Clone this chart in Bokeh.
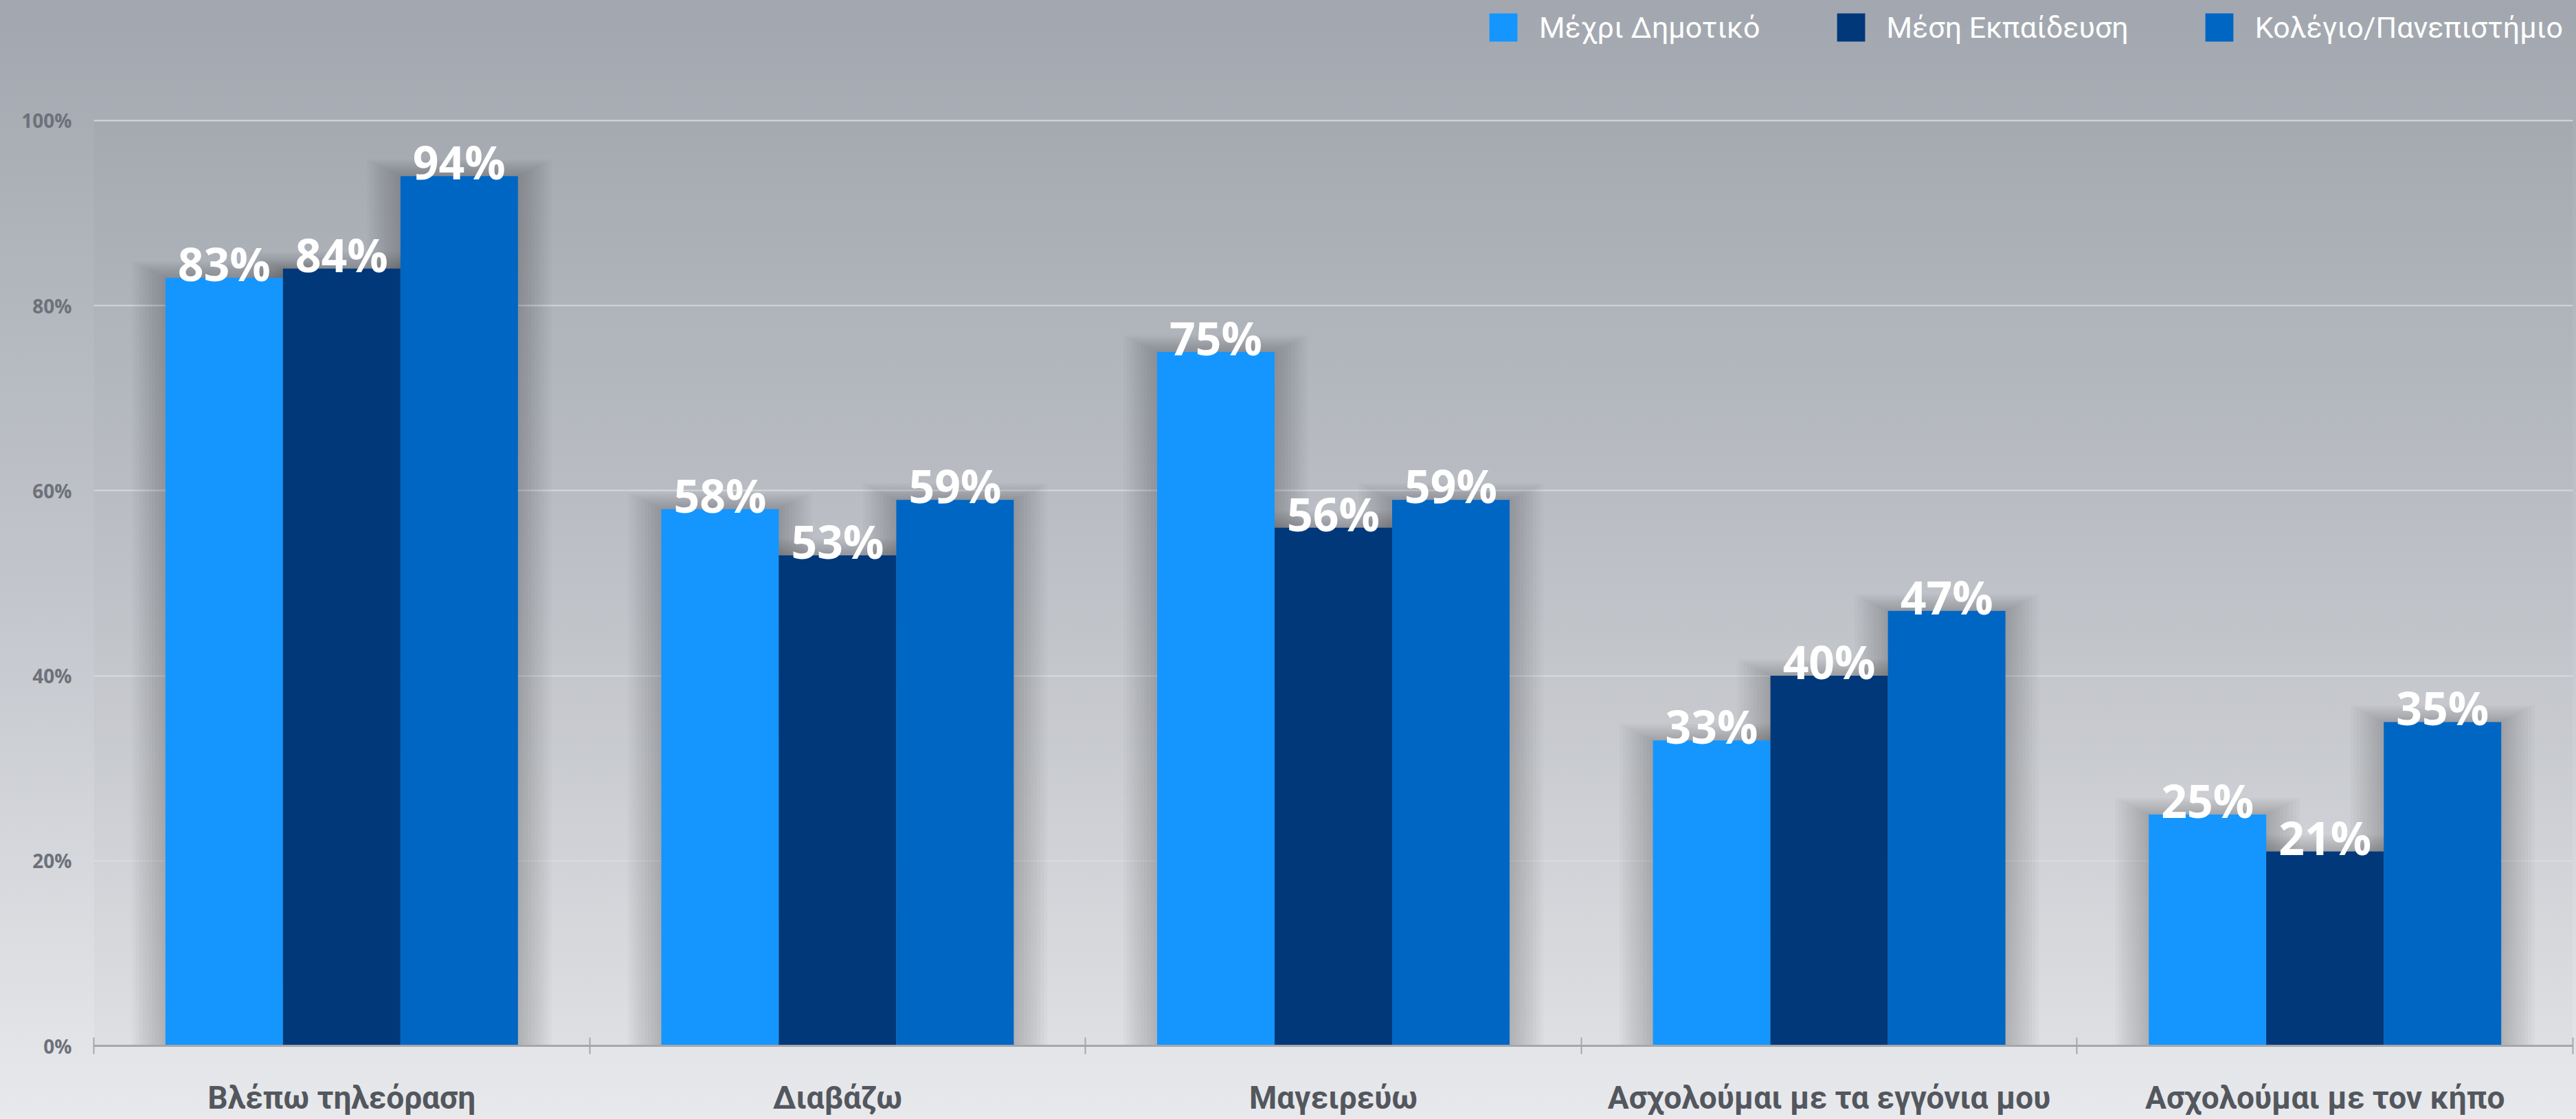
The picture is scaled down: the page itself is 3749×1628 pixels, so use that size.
from bokeh.plotting import figure
from bokeh.models import (ColumnDataSource, FixedTicker, Legend, LegendItem, Range1d,
                          PrintfTickFormatter, GlobalInlineStyleSheet)
from bokeh.core.properties import value
from bokeh.embed import file_html
from bokeh.resources import INLINE

# ---------------- data ----------------
categories = ["Βλέπω τηλεόραση", "Διαβάζω", "Μαγειρεύω",
              "Ασχολούμαι με τα εγγόνια μου", "Ασχολούμαι με τον κήπο"]
series_names = ["Μέχρι Δημοτικό", "Μέση Εκπαίδευση", "Κολέγιο/Πανεπιστήμιο"]
primary_edu = [83, 58, 75, 33, 25]
secondary_edu = [84, 53, 56, 40, 21]
college_edu = [94, 59, 59, 47, 35]
series_values = [primary_edu, secondary_edu, college_edu]
series_colors = ["#1496fe", "#00387a", "#0066c4"]
y_ticks = [0, 20, 40, 60, 80, 100]

# ---------------- layout ----------------
W, H = 3749, 1628
BAR_W = 0.237
offsets = [-BAR_W, 0.0, BAR_W]

p = figure(width=W, height=H, x_range=Range1d(0, len(categories)), y_range=Range1d(0, 113.0),
           output_backend="svg", toolbar_location=None,
           min_border_left=136, min_border_right=5, min_border_top=0, min_border_bottom=107)

p.stylesheets = [GlobalInlineStyleSheet(css="""
html, body { margin: 0 !important; padding: 0 !important; overflow: hidden; }
html { background: linear-gradient(to bottom, #a2a7af 0%, #c4c7cd 55%, #e8e9ec 100%); min-height: 100%; }
body { background: transparent; }
""")]

p.border_fill_color = None
p.background_fill_color = None
p.outline_line_color = None

# slightly darker plot area below the top gridline
p.quad(left=0, right=len(categories), bottom=y_ticks[0], top=y_ticks[-1],
       fill_color="black", fill_alpha=0.02, line_color=None)

# soft shadows behind bars
centers = [i + 0.5 for i in range(len(categories))]
for k in range(1, 11):
    for s, vals in enumerate(series_values):
        xs = [c + offsets[s] for c in centers]
        p.vbar(x=xs, top=[v + k * 0.18 for v in vals], bottom=0,
               width=BAR_W + k * 0.0135, fill_color="black", fill_alpha=0.018, line_color=None)

# bars
renderers = []
for s, vals in enumerate(series_values):
    xs = [c + offsets[s] for c in centers]
    src = ColumnDataSource(dict(x=xs, top=vals, lab=[f"{v}%" for v in vals]))
    r = p.vbar(x="x", top="top", width=BAR_W, source=src,
               fill_color=series_colors[s], line_color=None)
    renderers.append(r)
    p.text(x="x", y="top", text="lab", source=src, text_align="center",
           text_baseline="alphabetic", y_offset=-21, text_color="white",
           text_font=value("Open Sans"), text_font_style="bold", text_font_size="66px")

# axes
xa = p.xaxis[0]
xa.ticker = FixedTicker(ticks=centers, minor_ticks=list(range(len(categories) + 1)))
xa.major_label_overrides = {c: name for c, name in zip(centers, categories)}
xa.major_tick_line_color = None
xa.major_tick_out = 0
xa.major_tick_in = 0
xa.minor_tick_in = 12
xa.minor_tick_out = 12
xa.minor_tick_line_color = "#a6a7aa"
xa.minor_tick_line_width = 2
xa.axis_line_color = "#a6a7aa"
xa.axis_line_width = 3
xa.major_label_standoff = 36
xa.major_label_text_font = "Roboto"
xa.major_label_text_font_style = "bold"
xa.major_label_text_font_size = "46px"
xa.major_label_text_color = "#53575e"

ya = p.yaxis[0]
ya.ticker = FixedTicker(ticks=y_ticks)
ya.formatter = PrintfTickFormatter(format="%d%%")
ya.axis_line_color = None
ya.major_tick_line_color = None
ya.minor_tick_line_color = None
ya.major_tick_out = 0
ya.major_tick_in = 0
ya.major_label_standoff = 32
ya.major_label_text_font = "Open Sans"
ya.major_label_text_font_style = "bold"
ya.major_label_text_font_size = "28px"
ya.major_label_text_color = "#6d717a"

p.xgrid.visible = False
p.ygrid.ticker = FixedTicker(ticks=y_ticks)
p.ygrid.grid_line_color = "#e2e4e8"
p.ygrid.grid_line_alpha = 0.8
p.ygrid.grid_line_width = 2

legend = Legend(items=[LegendItem(label=n, renderers=[r]) for n, r in zip(series_names, renderers)],
                orientation="horizontal", location="top_right",
                glyph_width=51, glyph_height=51, label_height=51, label_standoff=27,
                spacing=106, padding=0, margin=14,
                label_text_font="Roboto", label_text_font_size="43px",
                label_text_color="white",
                background_fill_alpha=0, border_line_alpha=0)
p.add_layout(legend)

open("out.html", "w").write(file_html(p, INLINE))
